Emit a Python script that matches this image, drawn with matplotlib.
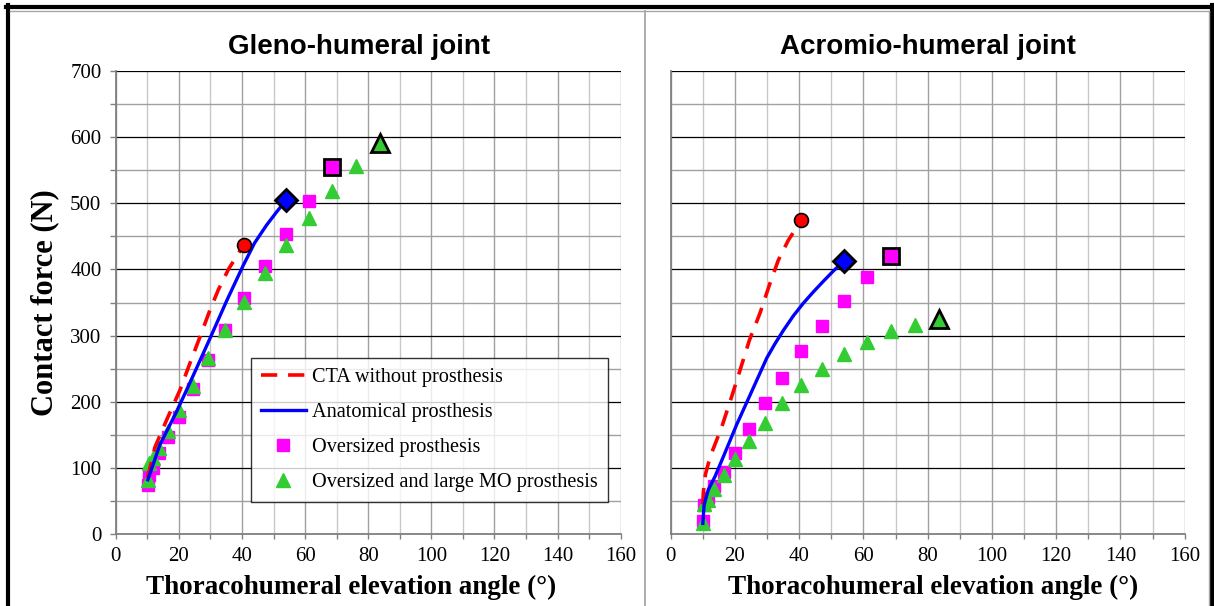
import numpy as np
import matplotlib
matplotlib.use("Agg")
import matplotlib.pyplot as plt
from matplotlib.lines import Line2D
from matplotlib.ticker import MultipleLocator

# Winkel (Grad) der Messpunkte, gleich fuer beide Gelenke
angles = [10.1, 10.5, 11.7, 13.6, 16.5, 20.0, 24.4, 29.2, 34.6, 40.6,
          47.2, 54.1, 61.1, 68.5, 76.0, 83.6]

# Gleno-humeral
gh_over = [74, 89, 100, 122, 147, 177, 219, 263, 308, 357, 405, 454, 504, 555]
gh_large = [82, 107, 115, 130, 155, 187, 224, 266, 308, 351, 394, 437, 478,
            519, 556, 591]
gh_cta_x = [10.1, 12.5, 16.1, 20.4, 23.5, 26.7, 29.9, 32.5, 35.7, 38.3, 40.6]
gh_cta_y = [85, 132, 172, 218, 258, 298, 339, 369, 400, 420, 437]
gh_ana_x = [10.2, 14.0, 19.3, 24.6, 29.9, 35.2, 40.4, 44.0, 47.8, 51.0, 54.0]
gh_ana_y = [82, 135, 185, 240, 296, 353, 406, 440, 467, 487, 505]

# Acromio-humeral
ah_over = [19, 44, 54, 72, 93, 123, 158, 198, 236, 277, 315, 353, 388, 420]
ah_large = [16, 46, 52, 68, 89, 113, 140, 168, 198, 225, 249, 272, 290, 307,
            316, 325]
ah_cta_x = [10.0, 10.2, 10.8, 12.3, 15.9, 19.0, 21.6, 24.5, 27.8, 30.9, 33.5, 36.6, 40.6]
ah_cta_y = [45, 64, 90, 117, 162, 208, 248, 293, 334, 379, 414, 444, 474]
ah_ana_x = [10.0, 10.4, 11.7, 13.8, 16.4, 20.5, 24.7, 29.9, 32.5, 35.1, 38.2,
            41.3, 44.4, 47.5, 50.7, 54.0]
ah_ana_y = [16, 44, 67, 87, 117, 165, 210, 266, 288, 308, 330, 349, 366,
            382, 398, 413]

labels = ["CTA without prosthesis", "Anatomical prosthesis",
          "Oversized prosthesis", "Oversized and large MO prosthesis"]
titles = ["Gleno-humeral joint", "Acromio-humeral joint"]

RED = "#ff0000"
BLUE = "#0000ff"
MAG = "#ff00ff"
GREEN = "#33cc33"
SERIF = ["Liberation Serif", "DejaVu Serif"]
TITLEFONT = ["Liberation Sans Narrow", "Liberation Sans", "DejaVu Sans"]
DASH = (4.5, 3.0)

W, H = 1214, 606
fig = plt.figure(figsize=(W / 100, H / 100), dpi=100)


def fx(p):
    return p / W


def fy(p):
    return 1 - p / H


ax1 = fig.add_axes([fx(115.7), fy(534), fx(620.7 - 115.7), (534 - 71) / H])
ax2 = fig.add_axes([fx(670.7), fy(534), fx(1184.7 - 670.7), (534 - 71) / H])


def draw(ax, over, large, cx, cy, ax_x, ax_y, title, title_x, xlab_x):
    n_over = len(over)
    n_large = len(large)
    # normale Punkte
    ax.plot(angles[:n_over - 1], over[:-1], ls="none", marker="s", ms=8.5,
            color=MAG, mec=MAG, zorder=3)
    ax.plot(angles[:n_large - 1], large[:-1], ls="none", marker="^", ms=9.5,
            color=GREEN, mec=GREEN, zorder=3)
    # Kurven
    ax.plot(cx, cy, color=RED, lw=2.6, dashes=DASH, zorder=4)
    ax.plot(ax_x, ax_y, color=BLUE, lw=2.4, zorder=4, solid_joinstyle="round")
    # Endpunkte mit schwarzem Rand
    ax.plot(cx[-1], cy[-1], marker="o", ms=10, color=RED, mec="k", mew=1.2, zorder=5)
    ax.plot(ax_x[-1], ax_y[-1], marker="D", ms=11.5, color=BLUE, mec="k", mew=2, zorder=5)
    ax.plot(angles[n_over - 1], over[-1], marker="s", ms=11, color=MAG, mec="k", mew=2, zorder=5)
    ax.plot(angles[n_large - 1], large[-1], marker="^", ms=13, color=GREEN, mec="k", mew=2, zorder=5)

    ax.set_xlim(0, 160)
    ax.set_ylim(0, 700)
    ax.xaxis.set_major_locator(MultipleLocator(20))
    ax.xaxis.set_minor_locator(MultipleLocator(10))
    ax.yaxis.set_major_locator(MultipleLocator(100))
    ax.yaxis.set_minor_locator(MultipleLocator(50))
    ax.grid(True, which="major", axis="x", color="#a0a0a0", lw=1.0)
    ax.grid(True, which="minor", axis="x", color="#c8c8c8", lw=1.0)
    ax.grid(True, which="major", axis="y", color="black", lw=0.9)
    ax.grid(True, which="minor", axis="y", color="#a0a0a0", lw=1.0)
    ax.set_axisbelow(True)
    for s in ["top", "right"]:
        ax.spines[s].set_visible(False)
    for s in ["left", "bottom"]:
        ax.spines[s].set_color("#808080")
        ax.spines[s].set_linewidth(1.3)
    ax.tick_params(axis="x", which="both", direction="out", length=3.6,
                   color="#808080", width=1, labelsize=15, pad=6)
    ax.tick_params(axis="y", which="both", direction="out", length=4.3,
                   color="#808080", width=1, labelsize=15, pad=6)
    for lab in ax.get_xticklabels() + ax.get_yticklabels():
        lab.set_family(SERIF)
    ax.set_xlabel("Thoracohumeral elevation angle (°)", family=SERIF,
                  fontsize=19.5, fontweight="bold")
    ax.xaxis.set_label_coords(xlab_x, -0.088)
    ax.set_title(title, family=TITLEFONT, fontsize=20, fontweight="bold",
                 pad=12, x=title_x)


draw(ax1, gh_over, gh_large, gh_cta_x, gh_cta_y, gh_ana_x, gh_ana_y,
     titles[0], 0.482, 0.466)
draw(ax2, ah_over, ah_large, ah_cta_x, ah_cta_y, ah_ana_x, ah_ana_y,
     titles[1], 0.5, 0.51)

ax1.set_ylabel("Contact force (N)", family=SERIF, fontsize=22,
               fontweight="bold", labelpad=8)
ax2.tick_params(axis="y", which="both", left=False, labelleft=False)

# Legende nur links
handles = [
    Line2D([], [], color=RED, lw=2.6, dashes=DASH),
    Line2D([], [], color=BLUE, lw=2.4),
    Line2D([], [], ls="none", marker="s", ms=8.5, color=MAG),
    Line2D([], [], ls="none", marker="^", ms=9.5, color=GREEN),
]
leg = ax1.legend(handles, labels, loc="lower left", bbox_to_anchor=(0.268, 0.069),
                 borderaxespad=0, prop={"family": SERIF, "size": 14.6},
                 frameon=True, fancybox=False, edgecolor="black",
                 handlelength=2.2, labelspacing=0.78, handletextpad=0.3,
                 borderpad=0.5)
leg.get_frame().set_linewidth(1.0)
leg.set_zorder(10)

# Rahmen der Abbildung
fig.add_artist(Line2D([fx(6), fx(1214)], [fy(7), fy(7)], color="black", lw=3))
fig.add_artist(Line2D([fx(8), fx(8)], [fy(5), fy(606)], color="black", lw=3))
fig.add_artist(Line2D([fx(1212), fx(1212)], [fy(5), fy(606)], color="black", lw=3))
fig.add_artist(Line2D([fx(10), fx(1209)], [fy(10.5), fy(10.5)], color="#a6a6a6", lw=1))
fig.add_artist(Line2D([fx(1209), fx(1209)], [fy(10.5), fy(606)], color="#a6a6a6", lw=1))
fig.add_artist(Line2D([fx(645), fx(645)], [fy(10.5), fy(606)], color="#a6a6a6", lw=1.3))

fig.savefig("out.png", dpi=100)
